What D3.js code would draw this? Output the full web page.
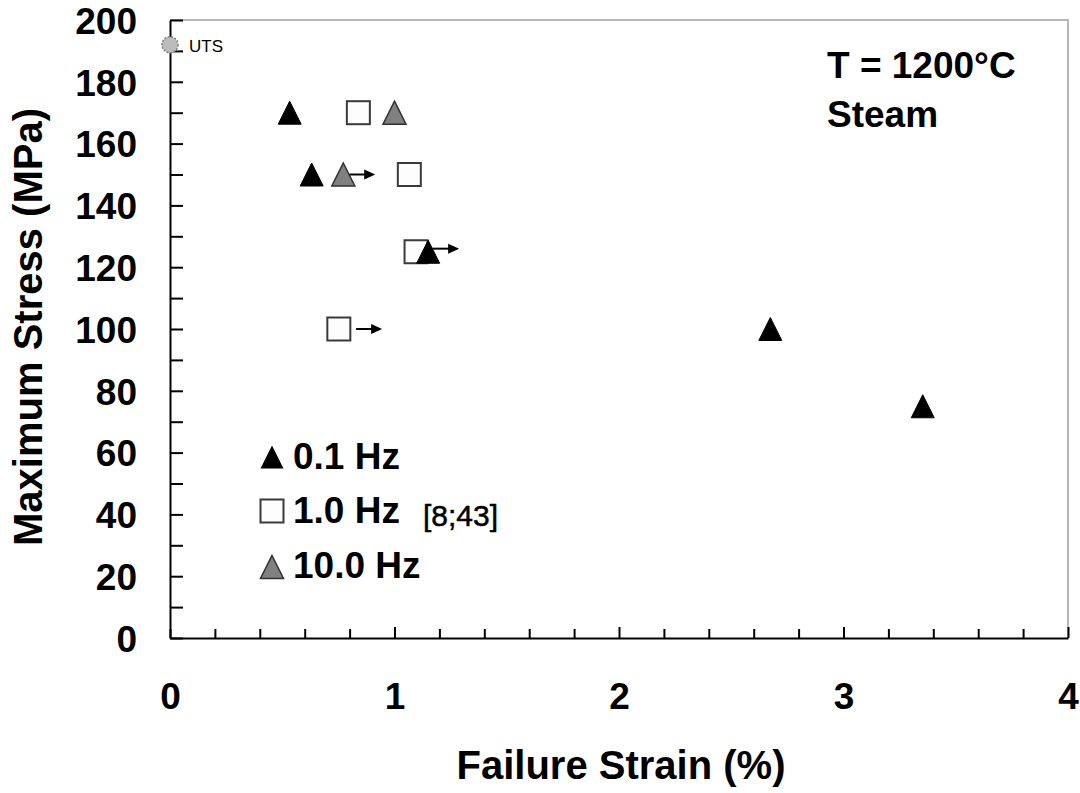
<!DOCTYPE html>
<html><head><meta charset="utf-8">
<script src="https://cdn.jsdelivr.net/npm/d3@7"></script>
<style>body{margin:0;background:#fff} svg{display:block} text{font-family:"Liberation Sans",Arial,sans-serif}</style>
</head><body><svg id="c" width="1080" height="793"></svg>
<script>
// ---- data ----
const hz01Strain = [0.533, 0.631, 1.150, 2.674, 3.353];
const hz01Stress = [170, 150, 125, 100, 75];
const hz1Strain  = [0.839, 1.066, 1.096, 0.752];
const hz1Stress  = [170, 150, 125, 100];
const hz10Strain = [1.0, 0.772];
const hz10Stress = [170, 150];
const utsStrain = [0];
const utsStress = [192];
// run-out arrows (strain from, strain to, stress)
const arrowFrom   = [0.800, 1.168, 0.829];
const arrowTo     = [0.914, 1.288, 0.945];
const arrowStress = [150, 126, 100];
const xTickLabels = [0, 1, 2, 3, 4];
const yTickLabels = [0, 20, 40, 60, 80, 100, 120, 140, 160, 180, 200];
const legendLabels = ["0.1 Hz", "1.0 Hz", "10.0 Hz"];

const svg = d3.select("#c");
const x = d3.scaleLinear().domain([0, 4]).range([170, 1068]);
const y = d3.scaleLinear().domain([0, 200]).range([638, 20]);
const font = '"Liberation Sans", Arial, sans-serif';

// grey frame (top & right)
svg.append("path").attr("d", `M${x(0)},${y(200)}H${x(4)}V${y(0)}`)
  .attr("fill", "none").attr("stroke", "#a0a0a0").attr("stroke-width", 1.5);

// y axis ticks every 10 (inward)
const yAx = svg.append("g").attr("transform", `translate(${x(0)},0)`)
  .call(d3.axisLeft(y).tickValues(d3.range(0, 201, 10)).tickSize(-13).tickSizeOuter(0).tickFormat(""));
yAx.select(".domain").attr("stroke", "#000").attr("stroke-width", 2);
yAx.selectAll(".tick line").attr("stroke", "#000").attr("stroke-width", 2);
// y labels
const yLab = svg.append("g").attr("transform", `translate(${x(0)},0)`)
  .call(d3.axisLeft(y).tickValues(yTickLabels).tickSize(0).tickPadding(33).tickFormat(d3.format("d")));
yLab.select(".domain").remove();
yLab.selectAll("text").attr("font-family", font).attr("font-size", 37).attr("font-weight", "bold")
  .attr("fill", "#000").attr("dy", "0.36em");

// x axis minor ticks every 0.2 (inward)
const xAx = svg.append("g").attr("transform", `translate(0,${y(0)})`)
  .call(d3.axisBottom(x).tickValues(d3.range(0, 4.01, 0.2)).tickSize(-9).tickSizeOuter(0).tickFormat(""));
xAx.select(".domain").attr("stroke", "#000").attr("stroke-width", 2);
xAx.selectAll(".tick line").attr("stroke", "#000").attr("stroke-width", 2)
  .attr("y2", d => Math.abs(d - Math.round(d)) < 1e-6 && d > 0 ? -11 : -9);
const xLab = svg.append("g").attr("transform", `translate(0,${y(0)})`)
  .call(d3.axisBottom(x).tickValues(xTickLabels).tickSize(0).tickPadding(0).tickFormat(d3.format("d")));
xLab.select(".domain").remove();
xLab.selectAll("text").attr("font-family", font).attr("font-size", 37).attr("font-weight", "bold")
  .attr("fill", "#000").attr("dy", null).attr("y", 71);

// axis titles
svg.append("text").attr("x", 621).attr("y", 779).attr("text-anchor", "middle")
  .attr("font-size", 40).attr("font-weight", "bold").text("Failure Strain (%)");
svg.append("text").attr("transform", "translate(42,327) rotate(-90)").attr("text-anchor", "middle")
  .attr("font-size", 40).attr("font-weight", "bold").text("Maximum Stress (MPa)");

// header
svg.append("text").attr("x", 827).attr("y", 78).attr("font-size", 37).attr("font-weight", "bold").text("T = 1200°C");
svg.append("text").attr("x", 827).attr("y", 127).attr("font-size", 37).attr("font-weight", "bold").text("Steam");

// marker helpers
const tri = s => `M0,${-s/2}L${s/2},${s/2}L${-s/2},${s/2}Z`;
const S = 23;

// UTS
svg.selectAll(".uts").data(utsStrain.map((v, i) => [v, utsStress[i]])).enter().append("circle")
  .attr("cx", d => x(d[0])).attr("cy", d => y(d[1])).attr("r", 8)
  .attr("fill", "#bcbcbc").attr("stroke", "#808080").attr("stroke-width", 1.5).attr("stroke-dasharray", "2,1.5");
svg.append("text").attr("x", x(utsStrain[0]) + 19).attr("y", y(utsStress[0]) + 7)
  .attr("font-size", 17).attr("fill", "#000").text("UTS");

// 1.0 Hz squares
svg.selectAll(".sq").data(hz1Strain.map((v, i) => [v, hz1Stress[i]])).enter().append("rect")
  .attr("x", d => x(d[0]) - S/2).attr("y", d => y(d[1]) - S/2).attr("width", S).attr("height", S)
  .attr("fill", "#fdfdfd").attr("stroke", "#3a3a3a").attr("stroke-width", 2);

// 0.1 Hz black triangles
svg.selectAll(".bt").data(hz01Strain.map((v, i) => [v, hz01Stress[i]])).enter().append("path")
  .attr("d", tri(S)).attr("transform", d => `translate(${x(d[0])},${y(d[1])})`)
  .attr("fill", "#000").attr("stroke", "#000").attr("stroke-width", 1);

// 10 Hz grey triangles
svg.selectAll(".gt").data(hz10Strain.map((v, i) => [v, hz10Stress[i]])).enter().append("path")
  .attr("d", tri(S)).attr("transform", d => `translate(${x(d[0])},${y(d[1])})`)
  .attr("fill", "#808080").attr("stroke", "#303030").attr("stroke-width", 1.5);

// arrows
const arr = svg.selectAll(".ar").data(arrowFrom.map((v, i) => [v, arrowTo[i], arrowStress[i]])).enter().append("g");
arr.append("line").attr("x1", d => x(d[0])).attr("x2", d => x(d[1]) - 8)
  .attr("y1", d => y(d[2])).attr("y2", d => y(d[2])).attr("stroke", "#000").attr("stroke-width", 2);
arr.append("path").attr("d", d => `M${x(d[1])},${y(d[2])}L${x(d[1]) - 11},${y(d[2]) - 5}L${x(d[1]) - 11},${y(d[2]) + 5}Z`)
  .attr("fill", "#000");

// legend
const legX = 272, legRows = [457, 511, 567], legBase = [469, 523, 578];
svg.append("path").attr("d", tri(S)).attr("transform", `translate(${legX},${legRows[0]})`).attr("fill", "#000");
svg.append("rect").attr("x", legX - S/2).attr("y", legRows[1] - S/2).attr("width", S).attr("height", S)
  .attr("fill", "#fdfdfd").attr("stroke", "#3a3a3a").attr("stroke-width", 2);
svg.append("path").attr("d", tri(S)).attr("transform", `translate(${legX},${legRows[2]})`)
  .attr("fill", "#808080").attr("stroke", "#303030").attr("stroke-width", 1.5);
legendLabels.forEach((t, i) => {
  svg.append("text").attr("x", 293).attr("y", legBase[i]).attr("font-size", 37).attr("font-weight", "bold").text(t);
});
svg.append("text").attr("x", 423).attr("y", 526).attr("font-size", 30)
  .attr("stroke", "#000").attr("stroke-width", 0.5).text("[8;43]");
</script></body></html>
